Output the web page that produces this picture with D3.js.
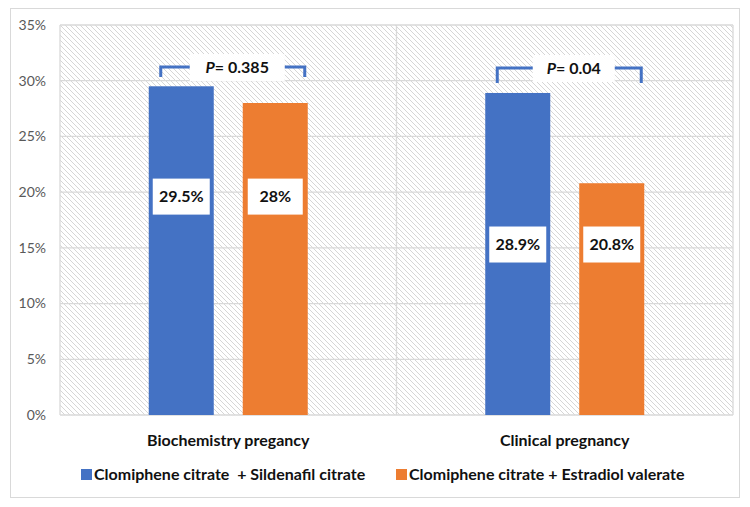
<!DOCTYPE html>
<html>
<head>
<meta charset="utf-8">
<script src="https://cdn.jsdelivr.net/npm/d3@7"></script>
<style>
	body { margin: 0; background: #fff; }
	text { font-family: Lato, "Open Sans", sans-serif; }
</style>
</head>
<body>
<div id="chart"></div>
<script>
// data
const categories = ["Biochemistry pregancy", "Clinical pregnancy"];
const series_names = ["Clomiphene citrate  + Sildenafil citrate", "Clomiphene citrate + Estradiol valerate"];
const sildenafil = [29.5, 28.9];
const estradiol = [28, 20.8];
const value_labels = [["29.5%", "28%"], ["28.9%", "20.8%"]];
const p_labels = ["0.385", "0.04"];
const y_ticks = [0, 5, 10, 15, 20, 25, 30, 35];

const colors = ["#4472C4", "#ED7D31"];
const width = 750, height = 507;
const margin = { top: 25, right: 17, bottom: 92, left: 60 };

const svg = d3
	.select("#chart")
	.append("svg")
	.attr("width", width)
	.attr("height", height);

// outer chart border
svg.append("rect")
	.attr("x", 10.5).attr("y", 8.5)
	.attr("width", 729).attr("height", 489)
	.attr("fill", "#fff")
	.attr("stroke", "#d9d9d9");

// hatch pattern for plot background
const defs = svg.append("defs");
const pat = defs.append("pattern")
	.attr("id", "hatch")
	.attr("patternUnits", "userSpaceOnUse")
	.attr("width", 5).attr("height", 5);
pat.append("rect").attr("width", 5).attr("height", 5).attr("fill", "#fff");
pat.append("path")
	.attr("d", "M-1,-1 L6,6 M-1,4 L1,6 M4,-1 L6,1")
	.attr("stroke", "#d6d6d6")
	.attr("stroke-width", 1);

const x = d3.scaleBand()
	.domain(categories)
	.range([margin.left, width - margin.right]);

const y = d3.scaleLinear()
	.domain([0, 35])
	.range([height - margin.bottom, margin.top]);

const g = svg.append("g");

g.append("rect")
	.attr("x", margin.left).attr("y", margin.top)
	.attr("width", width - margin.left - margin.right)
	.attr("height", y(0) - margin.top)
	.attr("fill", "url(#hatch)");

// grid lines
g.selectAll("line.grid")
	.data(y_ticks)
	.enter()
	.append("line")
	.attr("class", "grid")
	.attr("x1", margin.left).attr("x2", width - margin.right)
	.attr("y1", (d) => y(d)).attr("y2", (d) => y(d))
	.attr("stroke", "#d9d9d9")
	.attr("stroke-width", 1.3);

// category separators
g.selectAll("line.sep")
	.data([x.range()[0], x(categories[1]), x.range()[1]])
	.enter()
	.append("line")
	.attr("class", "sep")
	.attr("x1", (d) => d).attr("x2", (d) => d)
	.attr("y1", margin.top).attr("y2", y(0))
	.attr("stroke", "#d9d9d9")
	.attr("stroke-width", 1.3);

// y tick labels
g.selectAll("text.ytick")
	.data(y_ticks)
	.enter()
	.append("text")
	.attr("class", "ytick")
	.attr("x", 46)
	.attr("y", (d) => y(d))
	.attr("dy", "0.35em")
	.attr("text-anchor", "end")
	.attr("font-size", 14)
	.attr("fill", "#595959")
	.text((d) => d + "%");

// bars
const bar_w = 65, gap = 29;
const bar_data = [];
categories.forEach((c, i) => {
	bar_data.push({ cat: c, s: 0, v: sildenafil[i], label: value_labels[i][0] });
	bar_data.push({ cat: c, s: 1, v: estradiol[i], label: value_labels[i][1] });
});
const bar_x = (d) => x(d.cat) + x.bandwidth() / 2 + (d.s === 0 ? -gap / 2 - bar_w : gap / 2);

g.selectAll("rect.bar")
	.data(bar_data)
	.enter()
	.append("rect")
	.attr("class", "bar")
	.attr("x", bar_x)
	.attr("y", (d) => y(d.v))
	.attr("width", bar_w)
	.attr("height", (d) => y(0) - y(d.v))
	.attr("fill", (d) => colors[d.s]);

// value labels in white boxes
const label_level = [19.6, 15.3];
const lab = g.selectAll("g.vlab")
	.data(bar_data)
	.enter()
	.append("g")
	.attr("class", "vlab")
	.attr("transform", (d) => `translate(${bar_x(d) + bar_w / 2},${y(label_level[categories.indexOf(d.cat)])})`);
lab.append("rect")
	.attr("x", (d) => (d.label.length > 3 ? -28.5 : -27.5))
	.attr("y", -18)
	.attr("width", (d) => (d.label.length > 3 ? 57 : 55))
	.attr("height", 36)
	.attr("fill", "#fff");
lab.append("text")
	.attr("text-anchor", "middle")
	.attr("dy", "0.36em")
	.attr("font-size", 16)
	.attr("font-weight", "bold")
	.attr("fill", "#111")
	.text((d) => d.label);

// p-value brackets
const bracket_top = [67, 68];
const bracket_drop = [10, 15];
categories.forEach((c, i) => {
	const x1 = x(c) + x.bandwidth() / 2 - gap / 2 - bar_w + 12;
	const x2 = x(c) + x.bandwidth() / 2 + gap / 2 + bar_w - 3;
	const yt = bracket_top[i];
	g.append("path")
		.attr("d", `M${x1},${yt + bracket_drop[i]} V${yt} H${x2} V${yt + bracket_drop[i]}`)
		.attr("fill", "none")
		.attr("stroke", colors[0])
		.attr("stroke-width", 3);
	const cx = x(c) + x.bandwidth() / 2 + 9;
	const bw = i === 0 ? 95 : 82;
	g.append("rect")
		.attr("x", cx - bw / 2).attr("y", yt - 13)
		.attr("width", bw).attr("height", 27)
		.attr("fill", "#fff");
	const t = g.append("text")
		.attr("x", cx).attr("y", yt)
		.attr("dy", "0.36em")
		.attr("text-anchor", "middle")
		.attr("font-size", 16)
		.attr("font-weight", "bold")
		.attr("fill", "#111");
	t.append("tspan").attr("font-style", "italic").text("P");
	t.append("tspan").text("= " + p_labels[i]);
});

// category labels
g.selectAll("text.cat")
	.data(categories)
	.enter()
	.append("text")
	.attr("class", "cat")
	.attr("x", (d) => x(d) + x.bandwidth() / 2)
	.attr("y", 440)
	.attr("dy", "0.35em")
	.attr("text-anchor", "middle")
	.attr("font-size", 16)
	.attr("font-weight", "bold")
	.attr("fill", "#111")
	.text((d) => d);

// legend
const legend_x = [81, 396];
const leg = g.selectAll("g.leg")
	.data(series_names)
	.enter()
	.append("g")
	.attr("class", "leg")
	.attr("transform", (d, i) => `translate(${legend_x[i]},474)`);
leg.append("rect")
	.attr("x", 0).attr("y", -5)
	.attr("width", 11).attr("height", 11)
	.attr("fill", (d, i) => colors[i]);
leg.append("text")
	.attr("x", 13)
	.attr("dy", "0.35em")
	.attr("font-size", 16)
	.attr("font-weight", "bold")
	.attr("fill", "#111")
	.attr("xml:space", "preserve")
	.style("white-space", "pre")
	.text((d) => d);
</script>
</body>
</html>
